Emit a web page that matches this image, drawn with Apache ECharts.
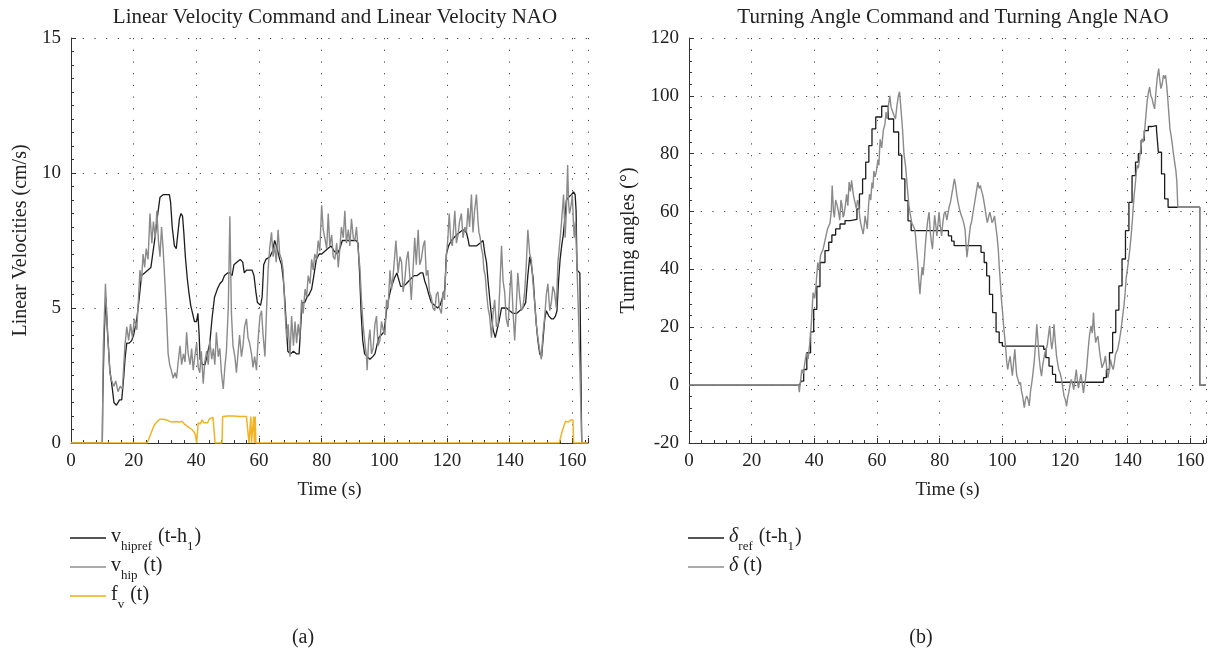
<!DOCTYPE html>
<html><head><meta charset="utf-8">
<script src="https://cdn.jsdelivr.net/npm/echarts@6/dist/echarts.min.js"></script>
<style>html,body{margin:0;padding:0;background:#fff}#c{width:1216px;height:650px}</style>
</head><body><div id="c"></div>
<script>
// ---------- data (time s, value) ----------
const vHipRef = [[0,0],[10,0],[10.1,1.5],[10.6,4.0],[11.1,5.4],[11.6,4.2],[12.4,2.7],[13.2,2.0],[13.7,1.5],[14.5,1.4],[15.5,1.6],[16.2,1.6],[16.8,2.4],[17.3,3.2],[17.8,3.7],[18.6,3.7],[19.4,3.8],[20,4.0],[21,4.6],[21.8,5.4],[22.5,6.2],[23.5,6.3],[24.5,6.4],[25.5,6.5],[26.2,7.1],[26.8,7.6],[27.6,8.4],[28.4,9.1],[29.5,9.2],[30.5,9.2],[31.4,9.2],[31.8,8.9],[32.3,8.0],[33,7.3],[33.6,7.2],[34.2,7.2],[34.6,8.3],[35.1,8.5],[35.6,8.4],[36,7.8],[36.5,6.9],[37.1,6.1],[37.6,5.6],[38.2,5.1],[38.8,4.8],[39.4,4.5],[40.1,4.5],[40.5,4.8],[40.9,4.0],[41.2,3.1],[42,2.9],[42.8,2.9],[43.5,3.3],[44.3,3.7],[45,4.6],[45.8,5.4],[46.7,5.7],[47.5,5.9],[48.3,6.0],[49,6.2],[50,6.3],[50.7,6.3],[51.4,6.2],[52,6.6],[53,6.7],[54,6.8],[54.8,6.7],[55.3,6.3],[56,6.4],[57,6.4],[57.8,6.4],[58.4,6.2],[59,5.6],[59.5,5.2],[60.5,5.1],[61,5.4],[61.5,6.6],[62.2,6.8],[63.5,6.9],[64.3,7.1],[65,7.5],[65.8,7.2],[66.6,6.8],[67.2,6.6],[67.8,6.0],[68.3,5.2],[68.8,4.2],[69.2,3.4],[70,3.3],[71,3.4],[72,3.3],[72.8,3.3],[73.3,4.3],[73.8,5.2],[74.6,5.2],[75.3,5.4],[76,5.5],[76.8,5.7],[77.5,6.2],[78.3,6.8],[79.2,7.0],[80,7.0],[81,7.1],[82,7.2],[83,7.3],[84,7.1],[85,7.0],[85.8,7.2],[86.6,7.5],[88,7.5],[89.5,7.5],[91,7.5],[91.6,7.4],[92.1,6.3],[92.6,4.8],[93.1,3.8],[93.7,3.3],[94.5,3.2],[95.4,3.1],[96.3,3.2],[97,3.3],[97.6,3.6],[98.2,3.9],[99,4.0],[99.8,4.1],[100.3,4.5],[100.8,5.0],[101.5,5.4],[102.3,5.8],[103.2,6.1],[104,6.3],[104.6,6.3],[105.2,5.8],[106,5.8],[107,5.9],[107.8,6.0],[108.6,6.1],[109.5,6.2],[110.5,6.2],[111.5,6.3],[112.3,6.3],[112.9,6.0],[113.5,5.8],[114.2,5.5],[115,5.2],[116,5.1],[117,5.0],[117.8,5.1],[118.6,5.4],[119.3,5.7],[119.8,7.0],[120.5,7.3],[121.4,7.5],[122.2,7.6],[123,7.7],[124,7.8],[125.1,7.9],[126.2,7.8],[126.8,7.5],[127.1,7.3],[128,7.3],[129.4,7.3],[130.5,7.4],[131.5,7.5],[132.1,7.0],[132.6,6.7],[133.1,6.0],[133.6,5.4],[134.2,4.7],[134.7,4.2],[135.4,3.9],[136,3.9],[136.6,4.5],[137.4,5.0],[138.2,5.0],[139,5.0],[140,4.9],[141.1,4.8],[142.2,4.8],[143.2,4.9],[144.2,5.0],[145.1,5.2],[145.8,6.2],[146.4,6.9],[146.9,6.6],[147.5,6.1],[148,5.2],[148.5,4.4],[149,3.8],[149.6,3.3],[150.2,3.2],[150.7,3.9],[151.2,4.6],[151.7,4.9],[152.5,4.7],[153.3,4.6],[154,4.6],[154.6,4.7],[155.1,4.9],[155.6,6.0],[156.1,6.8],[156.6,7.3],[157.1,7.7],[157.6,8.3],[158.1,9.0],[158.8,9.1],[159.7,9.2],[160.4,9.3],[160.9,9.2],[161.2,8.6],[161.5,6.4],[162.4,6.3],[162.7,3.0],[163,0],[165,0]];

const vHip = [[0,0],[10,0],[10.3,3.5],[11.0,5.9],[11.5,4.5],[12.4,2.6],[13,2.3],[13.7,2.1],[14.3,2.3],[15,1.9],[15.7,2.1],[16.4,2.0],[17.2,3.6],[17.8,4.3],[18.4,3.8],[19,4.4],[19.6,3.9],[20.2,4.6],[21,4.2],[21.5,5.3],[22,6.4],[22.5,6.0],[23,7.0],[23.5,6.5],[24,7.2],[24.6,6.8],[25.2,8.5],[25.8,7.4],[26.3,8.2],[26.9,7.6],[27.4,8.6],[27.9,7.5],[28.4,6.9],[28.9,8.0],[29.4,7.2],[30,5.9],[30.5,4.7],[31,3.3],[31.5,2.9],[32,2.7],[32.6,2.4],[33.2,2.6],[33.7,2.4],[34.2,3.0],[34.8,3.6],[35.3,2.9],[35.9,3.3],[36.4,3.0],[36.9,4.1],[37.4,3.3],[38,2.9],[38.5,3.5],[39,2.7],[39.5,3.2],[40.1,3.7],[40.6,2.8],[41.1,2.6],[41.6,3.4],[42.2,2.2],[42.7,3.0],[43.3,3.4],[43.8,2.9],[44.3,3.8],[44.9,3.1],[45.4,3.5],[45.9,2.9],[46.4,4.1],[47,3.2],[47.5,3.5],[48,2.6],[48.6,2.0],[49.1,2.8],[49.6,3.4],[50.2,5.0],[50.7,8.4],[51.2,4.8],[51.7,3.6],[52.3,3.2],[52.8,2.6],[53.3,3.3],[53.8,4.0],[54.4,3.2],[54.9,3.6],[55.4,4.3],[56,4.6],[56.5,3.9],[57,3.7],[57.6,3.3],[58.1,2.8],[58.6,3.2],[59.2,2.7],[59.7,3.8],[60.3,4.7],[60.8,4.9],[61.3,4.0],[61.9,3.2],[62.4,4.9],[62.9,6.4],[63.4,7.2],[64,7.8],[64.5,6.9],[65,7.3],[65.5,6.7],[66.1,7.9],[66.6,7.0],[67.2,6.8],[67.7,6.4],[68.3,4.9],[68.8,3.9],[69.3,4.4],[69.9,3.2],[70.4,4.7],[71,3.6],[71.5,4.5],[72,3.7],[72.5,4.4],[73,3.9],[73.6,5.3],[74.1,4.8],[74.7,5.7],[75.2,5.4],[75.7,6.2],[76.3,5.9],[76.8,6.8],[77.3,6.4],[77.8,7.0],[78.4,6.8],[78.9,7.5],[79.4,7.1],[80,8.8],[80.5,7.9],[81,7.6],[81.6,7.2],[82.1,8.5],[82.6,7.3],[83.2,7.7],[83.7,6.9],[84.2,6.8],[84.8,7.4],[85.3,6.5],[85.8,7.2],[86.3,8.0],[86.9,7.6],[87.4,8.6],[87.9,7.4],[88.5,7.9],[89,7.3],[89.5,8.3],[90.1,7.6],[90.6,7.5],[91.1,8.0],[91.6,7.2],[92.2,6.5],[92.7,5.3],[93.2,4.4],[93.8,3.7],[94.3,3.2],[94.5,2.7],[95,3.8],[95.4,4.2],[95.9,3.3],[96.4,3.5],[97,4.4],[97.5,4.7],[98,3.6],[98.6,3.8],[99.1,4.5],[99.6,4.2],[100.2,4.0],[100.7,5.3],[101.2,5.0],[101.8,6.4],[102.3,5.7],[102.8,6.2],[103.3,6.9],[103.7,7.5],[104.4,6.3],[105,6.9],[105.5,6.7],[106,5.6],[106.5,6.0],[107.1,6.8],[107.6,7.1],[108.1,6.2],[108.6,5.3],[109.2,6.5],[109.7,7.6],[110.2,6.6],[110.8,7.9],[111.3,6.6],[111.8,6.8],[112.4,7.3],[112.9,7.5],[113.4,6.2],[113.9,6.4],[114.4,5.6],[115,5.4],[115.5,5.0],[116.1,4.9],[116.6,5.5],[117.1,5.6],[117.6,5.0],[118.2,4.8],[118.7,5.6],[119.2,5.3],[119.8,6.9],[120.3,7.6],[120.7,8.5],[121.2,7.5],[121.7,7.3],[122.5,8.6],[123,7.4],[123.5,7.7],[124,8.2],[124.6,8.5],[125.1,7.6],[125.7,8.0],[126.2,7.8],[126.7,8.7],[127.2,8.0],[127.8,9.2],[128.3,7.8],[128.8,8.6],[129.4,9.2],[129.9,8.2],[130.2,7.8],[130.6,7.6],[131,7.2],[131.4,7.0],[131.8,6.4],[132.2,6.2],[132.6,5.6],[133.1,5.0],[133.6,4.7],[134.2,3.9],[134.7,4.8],[135.2,5.3],[135.8,4.3],[136.3,4.4],[136.8,5.6],[137.4,7.3],[137.9,6.0],[138.4,5.6],[138.9,4.6],[139.5,4.3],[140,5.5],[140.5,6.4],[141.1,4.8],[141.6,3.8],[142.1,5.0],[142.6,6.3],[143.2,5.4],[143.7,4.9],[144.2,5.0],[144.8,5.6],[145.3,6.6],[145.8,7.9],[146.4,7.0],[146.9,6.8],[147.4,6.0],[147.9,5.3],[148.5,4.4],[149,3.9],[149.5,3.5],[150.1,3.1],[150.6,4.0],[151.2,4.7],[151.7,5.5],[152.2,5.9],[152.8,4.9],[153.3,5.2],[153.8,5.8],[154.3,5.6],[154.9,5.0],[155.4,6.7],[155.9,7.3],[156.5,8.1],[157.2,9.2],[157.7,7.6],[158.1,8.6],[158.5,10.3],[158.8,8.9],[159.1,8.5],[159.6,8.8],[160,9.2],[160.3,8.3],[160.6,7.6],[161,8.2],[161.4,6.8],[161.9,5.0],[162.4,2.8],[162.8,1.0],[163,0],[165,0]];

const fV = [[0,0],[24.3,0],[25.5,0.35],[26.5,0.65],[27.5,0.8],[28.4,0.88],[29.5,0.88],[30.5,0.85],[31.5,0.8],[32.5,0.78],[33.5,0.8],[34.5,0.78],[35.5,0.8],[36.2,0.7],[36.8,0.72],[37.4,0.6],[38,0.62],[38.6,0.5],[39.2,0.42],[39.7,0.3],[40.1,0],[40.4,0],[40.6,0.75],[41.3,0.7],[41.8,0.85],[42.4,0.75],[43,0.82],[43.6,0.75],[44.2,0.9],[44.8,0.85],[45.3,0.95],[45.8,0.9],[46,0],[48.2,0],[48.4,0.98],[50,1.0],[52,1.0],[54,0.98],[56,0.98],[56.6,0.97],[56.8,0],[57.2,0],[57.4,0.98],[57.6,0],[58.1,0],[58.3,0.98],[58.5,0],[58.8,0.98],[59.0,0],[155.8,0],[156.8,0.45],[157.8,0.8],[158.4,0.85],[158.8,0.78],[159.5,0.85],[160.2,0.85],[160.4,0],[165,0]];

const deltaRef = [[0,0],[35.3,0],[35.8,1.4],[36.6,5.4],[37.6,11.2],[38.8,18.4],[39.8,26.2],[40.8,34.1],[41.8,42.4],[43.4,46.5],[44.6,49.4],[45.6,51.9],[46.8,54],[48.2,55.7],[49.8,56.9],[51.5,57.3],[53.6,60.9],[54.4,66.1],[55.4,71.3],[56.4,77.1],[57.4,82.8],[58.4,88.6],[59.6,92.7],[61.5,96.4],[63.6,92.0],[65.3,87.5],[66.9,79.5],[67.9,71.3],[68.9,63.8],[69.9,56.8],[70.9,53.4],[82.8,51.6],[83.8,49.8],[84.6,48.2],[93.2,45.9],[94.2,42.4],[95,37.8],[95.9,31.4],[96.9,25.1],[98,18.4],[99,14.7],[100,13.5],[113.2,12.4],[113.9,9.5],[114.9,6.6],[116,3.7],[117,1.0],[132.3,2.6],[133.2,5.4],[134.2,11.2],[135.2,18.2],[136.2,25.9],[137.2,34.3],[138.2,43.6],[139.3,53.4],[140.4,63.2],[141.4,72.4],[142.5,77.1],[143.4,80],[144.3,84.6],[145.3,88],[146.6,89.4],[147.6,89.7],[149.2,88.3],[149.8,80.5],[150.8,73],[151.8,64.4],[152.9,61.5],[163,0],[165,0]];

const delta = [[0,0],[35,0],[35.2,-2.4],[35.6,1.5],[36,5.4],[36.5,4],[37,8],[37.5,11.2],[38,9],[38.5,14],[39,20.5],[39.6,32],[40.1,30],[40.5,34],[41.1,42.4],[41.5,40],[42,45],[42.8,47],[43.5,50.5],[44.2,54],[45,56],[45.4,60],[45.7,69],[46.1,60],[46.4,58],[46.8,64],[47.2,62.5],[47.7,60],[48.1,57],[48.5,64],[48.8,62.5],[49.2,58],[49.5,59],[50,63],[50.3,66],[50.7,62],[51.1,70.2],[51.5,67],[51.9,70.8],[52.2,68],[52.5,65.5],[53,63],[53.4,61],[53.8,64],[54.1,63],[54.5,58],[54.8,56],[55.2,54],[55.6,52.2],[56,56],[56.2,58.5],[56.6,56],[56.9,54],[57.3,62],[57.6,66],[58,64],[58.4,70],[58.7,68],[59,74],[59.4,72],[59.8,74],[60.3,78],[60.6,76],[61,85],[61.5,82],[62,88],[62.5,90],[62.9,94.4],[63.3,92],[63.7,97],[64.1,100],[64.5,96],[65,95.5],[65.5,93],[65.9,92],[66.3,96],[66.8,100],[67.2,101.4],[67.6,96],[67.9,92],[68.2,87.6],[68.6,80],[69.1,75.9],[69.4,72],[69.7,68],[70.2,62],[70.7,58.6],[71.1,56],[71.5,55.2],[72,54],[72.3,51.6],[72.6,47],[73,42.4],[73.3,37],[73.7,31.4],[74,36],[74.4,40.8],[74.7,38],[75.1,43],[75.4,48],[75.8,53],[76.2,57],[76.6,59.8],[77,53],[77.3,50],[77.7,47],[78.1,54],[78.4,58.7],[78.8,55],[79.1,51.6],[79.5,56],[79.8,59.8],[80.2,55],[80.6,51.6],[81,56],[81.4,59.2],[81.8,60],[82.3,57],[82.6,59],[83,61.5],[83.4,63],[83.8,65.5],[84.2,68],[84.7,71.3],[85.1,69],[85.5,65.5],[85.9,63],[86.3,60.9],[86.8,59],[87.3,57.4],[87.7,56],[88.1,53.8],[88.4,49],[88.7,44.2],[89.1,48],[89.5,52.2],[89.8,55],[90.2,56.5],[90.7,60],[91.1,62.7],[91.6,66],[92.2,70.2],[92.6,68],[93,69],[93.4,67],[93.8,65.5],[94.2,63],[94.5,60.9],[94.9,58],[95.2,56.2],[95.6,58],[96,59.8],[96.4,58],[96.7,56.2],[97.1,57],[97.5,58.5],[97.9,55],[98.3,51.6],[98.7,47],[99,41.2],[99.4,35],[99.7,29.7],[100.1,25],[100.4,20.5],[100.8,16],[101.1,12.4],[101.4,8],[101.7,5.4],[102.1,8],[102.5,10],[102.9,6],[103.2,3.3],[103.6,8],[104,12.4],[104.3,7],[104.6,3.3],[105,2],[105.4,0.3],[105.8,1],[106.1,-2],[106.5,-4],[107,-7.8],[107.4,-5],[107.8,-3.7],[108.2,-5],[108.6,-7.2],[109,-2],[109.3,0],[109.7,3.3],[110.2,8.5],[110.6,14],[111,21],[111.4,15],[111.7,10],[112.1,6],[112.5,3.1],[112.9,7],[113.4,10.1],[113.8,12],[114.3,13.5],[114.7,17],[115.1,20.5],[115.5,15],[115.8,12.4],[116.2,16],[116.5,21],[116.9,15],[117.3,10.1],[117.6,8],[118,5.4],[118.5,4],[118.9,2],[119.3,-1],[119.7,-3.8],[120.1,-5],[120.5,-7.3],[120.9,-4],[121.2,-2.7],[121.6,0],[122,2],[122.4,0.5],[122.8,-1.5],[123.2,2],[123.6,5.4],[124,1],[124.3,-1],[124.7,1.5],[125.1,3.8],[125.5,0.5],[125.9,-2.7],[126.2,0],[126.6,2.6],[127,7],[127.4,12.4],[127.8,17],[128.3,20.5],[128.7,18],[129.1,25.1],[129.4,19],[129.8,14.7],[130.1,16],[130.5,17],[131,12],[131.4,8.9],[131.8,6],[132.2,5.4],[132.5,8],[132.9,10.1],[133.3,6],[133.7,2.6],[134.1,5],[134.5,8.9],[135,6.5],[135.4,5.4],[135.8,8],[136.1,10.6],[136.5,11],[136.8,12.4],[137.3,15],[137.9,19.3],[138.3,23],[138.8,27.3],[139.2,32],[139.5,36.6],[139.9,40],[140.2,42.4],[140.7,47],[141.1,51.6],[141.5,57],[141.8,62],[142.1,66],[142.4,69],[142.7,73],[143,76],[143.4,75],[143.8,78.2],[144.2,82],[144.6,85.2],[145,84],[145.4,87.6],[145.8,93],[146.2,97.9],[146.6,101],[147,103],[147.4,100],[147.8,99],[148.2,97],[148.6,95.5],[149,101],[149.4,106],[149.9,109.4],[150.2,106],[150.6,102.5],[151,104],[151.4,107.1],[151.8,106],[152.1,107.1],[152.5,103],[152.8,99],[153.2,93],[153.5,88.6],[153.9,86],[154.3,82.8],[154.6,80],[155,77],[155.4,74],[155.7,70.2],[156,61.5],[163,61.5],[163.05,0],[165,0]];

// axis ranges / ticks
const timeMin = 0, timeMax = 165, timeStep = 20;
const velMin = 0, velMax = 15, velStep = 5;
const angMin = -20, angMax = 120, angStep = 20;

const titles = ['Linear Velocity Command and Linear Velocity NAO', 'Turning Angle Command and Turning Angle NAO'];
const yNames = ['Linear Velocities (cm/s)', 'Turning angles (°)'];
const xName = 'Time (s)';
const captions = ['(a)', '(b)'];

// ---------- chart ----------
const FONT = 'Liberation Serif';
const TXT = '#222';
const chart = echarts.init(document.getElementById('c'), null, {renderer: 'canvas'});

function xAxis(gi) {
  return {
    type: 'value', gridIndex: gi, min: timeMin, max: timeMax, interval: timeStep,
    name: xName, nameLocation: 'middle', nameGap: 38,
    nameTextStyle: {fontFamily: FONT, fontSize: 19, color: TXT},
    axisLine: {show: true, onZero: false, lineStyle: {color: '#333', width: 1}},
    axisTick: {show: true, inside: true, length: 5, lineStyle: {color: '#333'}},
    minorTick: {show: true, splitNumber: 5, length: 3, lineStyle: {color: '#333'}},
    axisLabel: {fontFamily: FONT, fontSize: 19, color: TXT, margin: 9, showMaxLabel: false},
    splitLine: {show: true, lineStyle: {color: '#444', width: 1, type: [1.2, 10.5]}}
  };
}
function yAxis(gi, min, max, step, name, gap, minorN) {
  return {
    type: 'value', gridIndex: gi, min: min, max: max, interval: step,
    name: name, nameLocation: 'middle', nameGap: gap, nameRotate: 90,
    nameTextStyle: {fontFamily: FONT, fontSize: 20, color: TXT},
    axisLine: {show: true, lineStyle: {color: '#333', width: 1}},
    axisTick: {show: true, inside: true, length: 5, lineStyle: {color: '#333'}},
    minorTick: {show: true, splitNumber: minorN, length: 3, lineStyle: {color: '#333'}},
    axisLabel: {fontFamily: FONT, fontSize: 19, color: TXT, margin: 10},
    splitLine: {show: true, lineStyle: {color: '#444', width: 1, type: [1.2, 10.5]}}
  };
}

const rich = {
  m: {fontFamily: FONT, fontSize: 20, color: TXT, lineHeight: 22, verticalAlign: 'top'},
  d: {fontFamily: FONT, fontSize: 20, color: TXT, lineHeight: 22, fontStyle: 'italic', verticalAlign: 'top'},
  s: {fontFamily: FONT, fontSize: 13, color: TXT, lineHeight: 12, padding: [13, 1, 0, 0], verticalAlign: 'top'}
};
const legendLabels = {
  vref: '{m|v}{s|hipref}{m| (t-h}{s|1}{m|)}',
  v: '{m|v}{s|hip}{m| (t)}',
  f: '{m|f}{s|v}{m| (t)}',
  dref: '{d|δ}{s|ref}{m| (t-h}{s|1}{m|)}',
  d: '{d|δ}{m| (t)}'
};

const COL_BLACK = '#1c1c1c', COL_GRAY = '#8a8a8a', COL_YEL = '#f0b323';
const titleStyle = {fontFamily: FONT, fontSize: 21, fontWeight: 'normal', color: TXT};
const capStyle = {fontFamily: FONT, fontSize: 20, fontWeight: 'normal', color: TXT};

chart.setOption({
  backgroundColor: '#fff',
  animation: false,
  title: [
    {text: titles[0], left: 330, top: 2, textAlign: 'center', textStyle: titleStyle},
    {text: titles[1], left: 948, top: 2, textAlign: 'center', textStyle: titleStyle},
    {text: captions[0], left: 298, top: 623, textAlign: 'center', textStyle: capStyle},
    {text: captions[1], left: 916, top: 623, textAlign: 'center', textStyle: capStyle}
  ],
  grid: [
    {left: 71, top: 38, width: 517, height: 405},
    {left: 689, top: 38, width: 517, height: 405}
  ],
  legend: [
    {data: ['vref', 'v', 'f'], orient: 'vertical', left: 70, top: 527, padding: 0, itemWidth: 36, itemHeight: 12, itemGap: 3,
     icon: 'path://M0,0 L36,0 L36,2 L0,2 Z',
     formatter: n => legendLabels[n], textStyle: {rich: rich}},
    {data: ['dref', 'd'], orient: 'vertical', left: 688, top: 527, padding: 0, itemWidth: 36, itemHeight: 12, itemGap: 3,
     icon: 'path://M0,0 L36,0 L36,2 L0,2 Z',
     formatter: n => legendLabels[n], textStyle: {rich: rich}}
  ],
  xAxis: [xAxis(0), xAxis(1)],
  yAxis: [
    yAxis(0, velMin, velMax, velStep, yNames[0], 40, 10),
    yAxis(1, angMin, angMax, angStep, yNames[1], 50, 5)
  ],
  series: [
    {name: 'vref', type: 'line', xAxisIndex: 0, yAxisIndex: 0, data: vHipRef, symbol: 'none',
     lineStyle: {color: COL_BLACK, width: 1.3}, itemStyle: {color: '#555'}, z: 2},
    {name: 'v', type: 'line', xAxisIndex: 0, yAxisIndex: 0, data: vHip, symbol: 'none',
     lineStyle: {color: COL_GRAY, width: 1.4}, itemStyle: {color: '#aaa'}, z: 3},
    {name: 'f', type: 'line', xAxisIndex: 0, yAxisIndex: 0, data: fV, symbol: 'none',
     lineStyle: {color: COL_YEL, width: 1.5}, itemStyle: {color: '#f3c24a'}, z: 4},
    {name: 'dref', type: 'line', xAxisIndex: 1, yAxisIndex: 1, data: deltaRef, symbol: 'none', step: 'end',
     lineStyle: {color: COL_BLACK, width: 1.3}, itemStyle: {color: '#555'}, z: 2},
    {name: 'd', type: 'line', xAxisIndex: 1, yAxisIndex: 1, data: delta, symbol: 'none',
     lineStyle: {color: COL_GRAY, width: 1.4}, itemStyle: {color: '#aaa'}, z: 3}
  ]
});
</script></body></html>
